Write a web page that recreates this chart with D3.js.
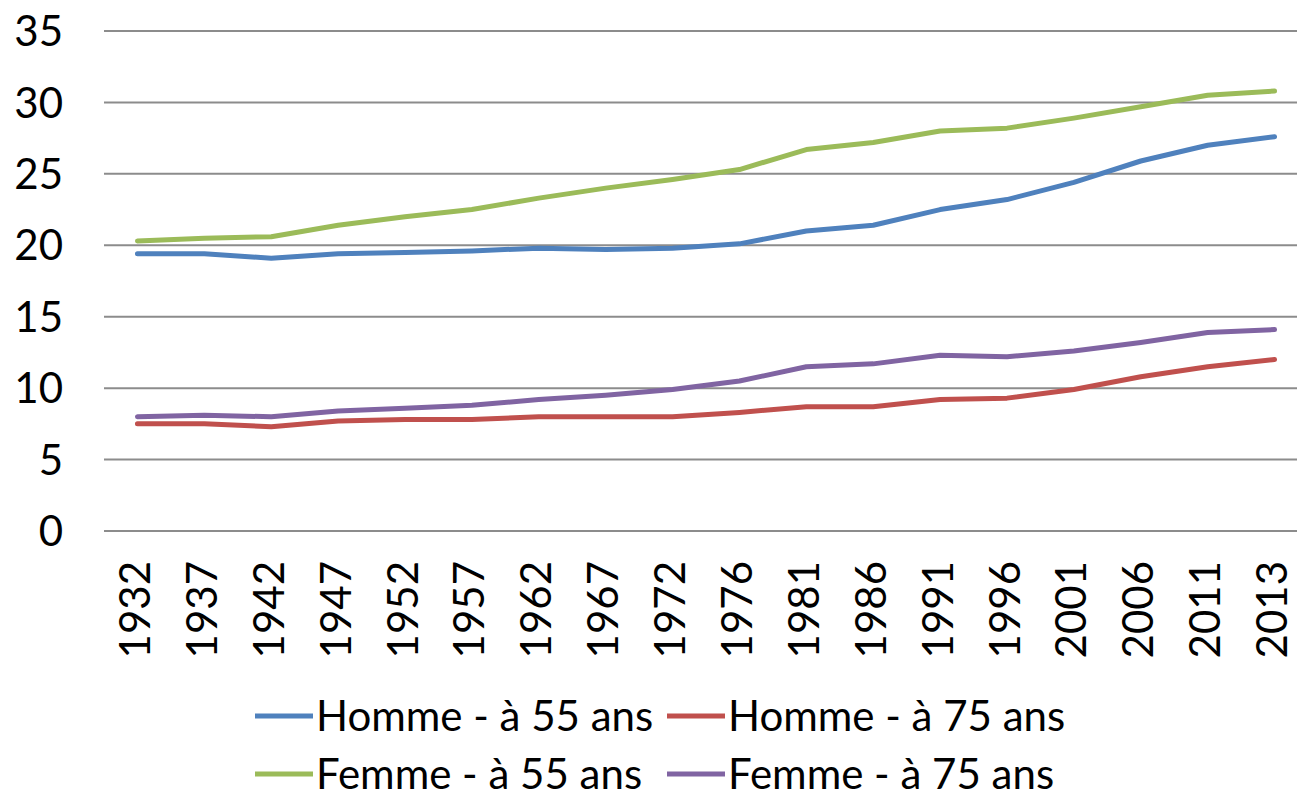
<!DOCTYPE html>
<html>
<head>
<meta charset="utf-8">
<script src="https://cdn.jsdelivr.net/npm/d3@7"></script>
<style>
  body { margin: 0; background: #fff; }
  text { font-family: "Lato", "DejaVu Sans", sans-serif; fill: #000; }
</style>
</head>
<body>
<div id="chart"></div>
<script>
const years = ["1932", "1937", "1942", "1947", "1952", "1957", "1962", "1967", "1972",
  "1976", "1981", "1986", "1991", "1996", "2001", "2006", "2011", "2013"];

const homme55 = [19.4, 19.4, 19.1, 19.4, 19.5, 19.6, 19.8, 19.7, 19.8,
  20.1, 21.0, 21.4, 22.5, 23.2, 24.4, 25.9, 27.0, 27.6];
const homme75 = [7.5, 7.5, 7.3, 7.7, 7.8, 7.8, 8.0, 8.0, 8.0,
  8.3, 8.7, 8.7, 9.2, 9.3, 9.9, 10.8, 11.5, 12.0];
const femme55 = [20.3, 20.5, 20.6, 21.4, 22.0, 22.5, 23.3, 24.0, 24.6,
  25.3, 26.7, 27.2, 28.0, 28.2, 28.9, 29.7, 30.5, 30.8];
const femme75 = [8.0, 8.1, 8.0, 8.4, 8.6, 8.8, 9.2, 9.5, 9.9,
  10.5, 11.5, 11.7, 12.3, 12.2, 12.6, 13.2, 13.9, 14.1];

const yTicks = [0, 5, 10, 15, 20, 25, 30, 35];

const series = [
  { name: "Homme - à 55 ans", values: homme55, color: "#4F81BD" },
  { name: "Homme - à 75 ans", values: homme75, color: "#C0504D" },
  { name: "Femme - à 55 ans", values: femme55, color: "#9BBB59" },
  { name: "Femme - à 75 ans", values: femme75, color: "#8064A2" }
];

const w = 1297;
const h = 799;
const plotLeft = 104, plotRight = 1308, plotTop = 31, plotBottom = 531;

const xScale = d3.scaleBand()
  .domain(years)
  .range([plotLeft, plotRight]);

const yScale = d3.scaleLinear()
  .domain([0, 35])
  .range([plotBottom, plotTop]);

const svg = d3.select("#chart")
  .append("svg")
  .attr("width", w)
  .attr("height", h);

// gridlines
svg.append("g")
  .selectAll("line")
  .data(yTicks)
  .enter()
  .append("line")
  .attr("x1", plotLeft)
  .attr("x2", plotRight)
  .attr("y1", d => yScale(d))
  .attr("y2", d => yScale(d))
  .attr("stroke", "#8c8c8c")
  .attr("stroke-width", 2);

// y labels
svg.append("g")
  .selectAll("text")
  .data(yTicks)
  .enter()
  .append("text")
  .attr("x", 63)
  .attr("y", d => yScale(d))
  .attr("dy", "0.36em")
  .attr("text-anchor", "end")
  .style("font-size", "42px")
  .text(d => d);

// x labels, rotated
svg.append("g")
  .selectAll("text")
  .data(years)
  .enter()
  .append("text")
  .attr("transform", d => `translate(${xScale(d) + xScale.bandwidth() / 2}, 561) rotate(-90)`)
  .attr("text-anchor", "end")
  .attr("dy", "0.3em")
  .style("font-size", "42px")
  .text(d => d);

const line = d3.line()
  .x((d, i) => xScale(years[i]) + xScale.bandwidth() / 2)
  .y(d => yScale(d));

svg.append("g")
  .selectAll("path")
  .data(series)
  .enter()
  .append("path")
  .attr("d", d => line(d.values))
  .attr("fill", "none")
  .attr("stroke", d => d.color)
  .attr("stroke-width", 5)
  .attr("stroke-linecap", "round")
  .attr("stroke-linejoin", "round");

// legend, two rows of two
const legendRows = [716, 774];
const legend = svg.append("g");
series.forEach((s, i) => {
  const row = Math.floor(i / 2);
  const col = i % 2;
  const x0 = col === 0 ? 255 : 667;
  const y0 = legendRows[row];
  legend.append("line")
    .attr("x1", x0).attr("x2", x0 + 58)
    .attr("y1", y0).attr("y2", y0)
    .attr("stroke", s.color)
    .attr("stroke-width", 5);
  legend.append("text")
    .attr("x", x0 + 61)
    .attr("y", y0)
    .attr("dy", "0.35em")
    .style("font-size", "42px")
    .text(s.name);
});
</script>
</body>
</html>
